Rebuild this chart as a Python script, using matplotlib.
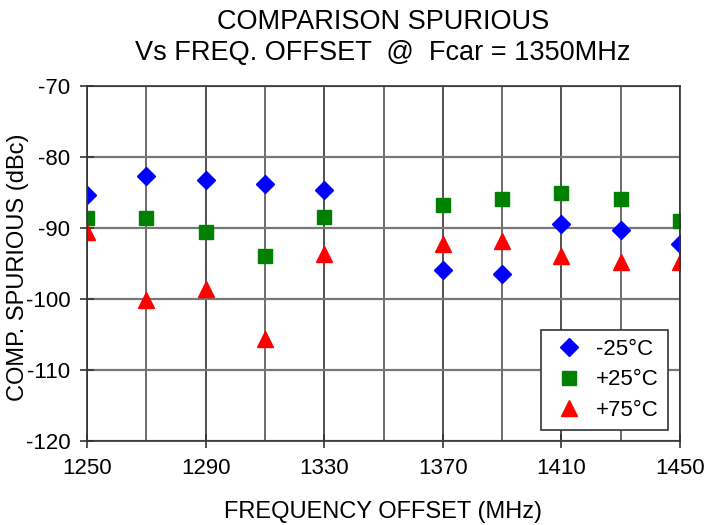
import numpy as np
import matplotlib
matplotlib.use("Agg")
import matplotlib.pyplot as plt

plt.rcParams['font.family'] = ['Liberation Sans', 'DejaVu Sans']
plt.rcParams['axes.unicode_minus'] = False

freq = [1250, 1270, 1290, 1310, 1330, 1370, 1390, 1410, 1430, 1450]
spur_m25 = [-85.4, -82.7, -83.2, -83.8, -84.6, -95.9, -96.5, -89.5, -90.3, -92.3]
spur_p25 = [-88.6, -88.6, -90.6, -93.9, -88.5, -86.8, -85.9, -85.1, -85.9, -89.0]
spur_p75 = [-90.6, -100.1, -98.6, -105.6, -93.6, -92.3, -91.8, -93.9, -94.8, -94.8]
labels = ["-25°C", "+25°C", "+75°C"]

fig = plt.figure(figsize=(7.04, 5.25), dpi=100)
ax = fig.add_axes([87 / 704, 1 - 441 / 525, (680 - 87) / 704, (441 - 86) / 525])

ax.set_xlim(1250, 1450)
ax.set_ylim(-120, -70)
ax.set_xticks(np.arange(1250, 1451, 40))
ax.set_xticks(np.arange(1270, 1451, 40), minor=True)
ax.set_yticks(np.arange(-120, -69, 10))

ax.grid(True, which='major', axis='x', color='#222222', lw=1.1)
ax.grid(True, which='minor', axis='x', color='#444444', lw=1.1)
ax.grid(True, which='major', axis='y', color='#777777', lw=1.6)
ax.set_axisbelow(True)

ax.plot(freq, spur_m25, 'D', color='#0000ff', ms=9.5, label=labels[0], ls='none')
ax.plot(freq, spur_p25, 's', color='#008000', ms=10.5, label=labels[1], ls='none')
ax.plot(freq, spur_p75, '^', color='#ff0000', ms=11, label=labels[2], ls='none')

for s in ax.spines.values():
    s.set_color('#333333')
    s.set_linewidth(1.2)
ax.tick_params(axis='both', which='major', direction='inout', length=10, width=1.2,
               labelsize=16, color='#333333', pad=7)
ax.tick_params(axis='x', which='minor', length=0)

ax.set_xlabel("FREQUENCY OFFSET (MHz)", fontsize=17, labelpad=16)
ax.set_ylabel("COMP. SPURIOUS (dBc)", fontsize=17)
ax.yaxis.set_label_coords(-0.098, 0.49)
fig.text(383 / 704, 1 - 9 / 525,
         "COMPARISON SPURIOUS\nVs FREQ. OFFSET  @  Fcar = 1350MHz",
         fontsize=19.5, ha='center', va='top', linespacing=1.25)

leg = ax.legend(loc='lower right', bbox_to_anchor=(0.98, 0.031), borderaxespad=0,
                fontsize=16, frameon=True, fancybox=False, edgecolor='#333333',
                framealpha=1, handletextpad=0.35, borderpad=0.42, labelspacing=0.42,
                handlelength=1.7)
leg.get_frame().set_linewidth(1.2)

fig.savefig("out.png", dpi=100)
